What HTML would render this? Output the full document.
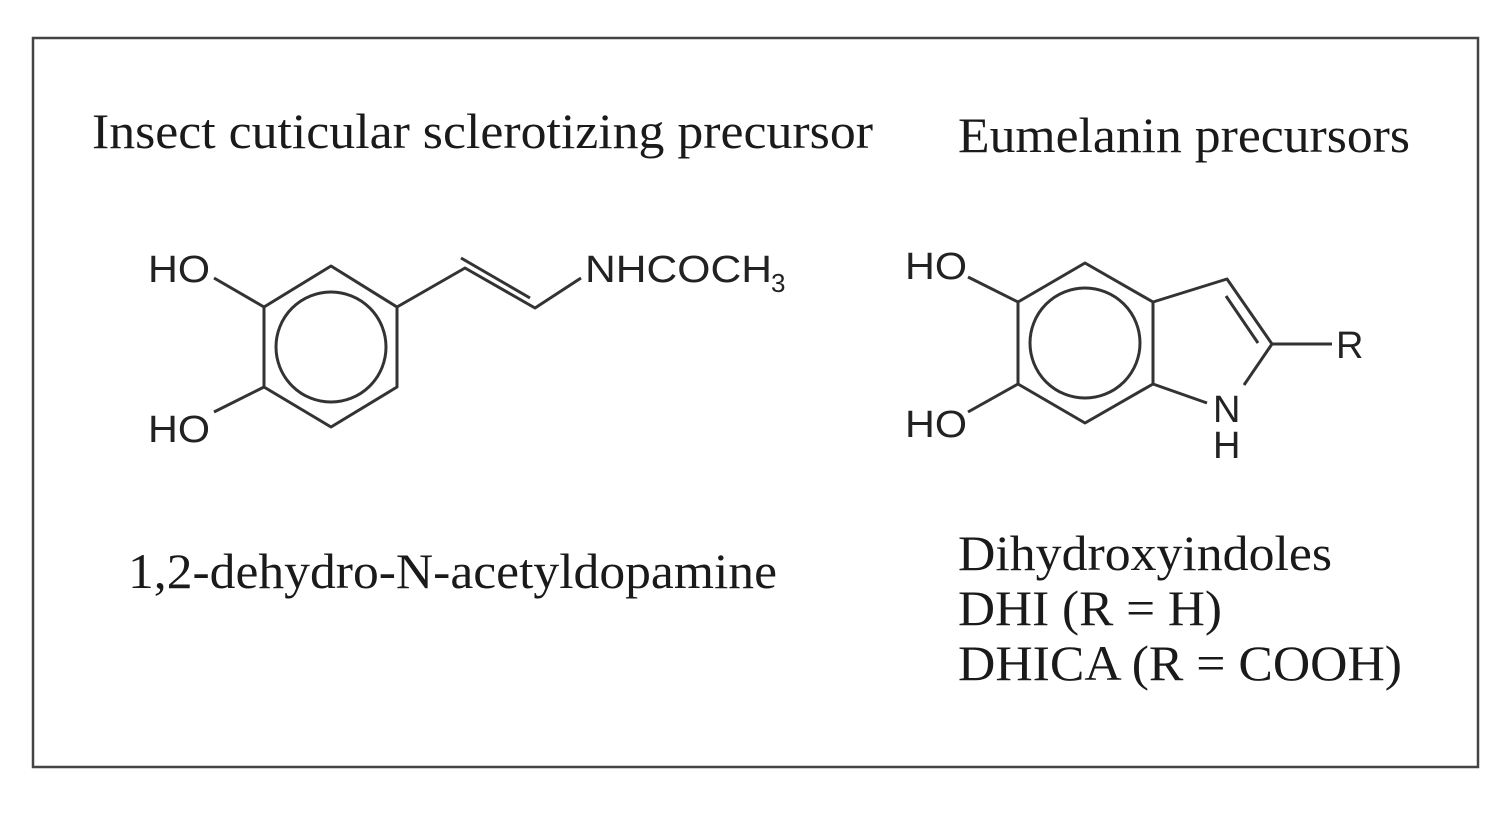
<!DOCTYPE html>
<html><head><meta charset="utf-8"><style>
html,body{margin:0;padding:0;background:#fff}
svg{display:block}
.s{font-family:"Liberation Serif",serif;font-size:50px;fill:#1a1a1a}
.a{font-family:"Liberation Sans",sans-serif;font-size:38px;fill:#222}
</style></head><body>
<svg width="1501" height="814" viewBox="0 0 1501 814" xmlns="http://www.w3.org/2000/svg">
<rect x="33" y="38" width="1445" height="729" fill="none" stroke="#444" stroke-width="2.5"/>
<text class="s" x="92" y="148" textLength="781" lengthAdjust="spacingAndGlyphs">Insect cuticular sclerotizing precursor</text>
<text class="s" x="958" y="152" textLength="452" lengthAdjust="spacingAndGlyphs">Eumelanin precursors</text>
<text class="s" x="128" y="588" textLength="649" lengthAdjust="spacingAndGlyphs">1,2-dehydro-N-acetyldopamine</text>
<text class="s" x="958" y="570" textLength="374" lengthAdjust="spacingAndGlyphs">Dihydroxyindoles</text>
<text class="s" x="958" y="625" textLength="264" lengthAdjust="spacingAndGlyphs">DHI (R = H)</text>
<text class="s" x="958" y="680" textLength="444" lengthAdjust="spacingAndGlyphs">DHICA (R = COOH)</text>
<g stroke="#333" stroke-width="3" fill="none" stroke-linejoin="round">
<polygon points="331,266 397,307 397,387 331,427 264,387 264,307"/>
<circle cx="331" cy="347" r="55"/>
<line x1="264" y1="307" x2="214" y2="278"/>
<line x1="264" y1="387" x2="214" y2="412"/>
<polyline points="397,307 465,268 535,308 581,278"/>
<line x1="461" y1="258" x2="530" y2="298"/>
<polygon points="1085,263 1153,302 1153,384 1085,423 1018,384 1018,302"/>
<circle cx="1085" cy="343" r="55"/>
<line x1="1018" y1="302" x2="968" y2="277"/>
<line x1="1018" y1="384" x2="968" y2="412"/>
<polyline points="1153,302 1227,279 1272,344 1244,385"/>
<line x1="1153" y1="384" x2="1207" y2="403"/>
<line x1="1226" y1="296" x2="1258" y2="343"/>
<line x1="1272" y1="344" x2="1332" y2="344"/>
</g>
<text class="a" x="148" y="282" textLength="62" lengthAdjust="spacingAndGlyphs">HO</text>
<text class="a" x="148" y="442" textLength="62" lengthAdjust="spacingAndGlyphs">HO</text>
<text class="a" x="585" y="282" textLength="187" lengthAdjust="spacingAndGlyphs">NHCOCH</text>
<text class="a" x="771" y="292" style="font-size:26px">3</text>
<text class="a" x="905" y="279" textLength="62" lengthAdjust="spacingAndGlyphs">HO</text>
<text class="a" x="905" y="437" textLength="62" lengthAdjust="spacingAndGlyphs">HO</text>
<text class="a" x="1213" y="422">N</text>
<text class="a" x="1213" y="458">H</text>
<text class="a" x="1336" y="358">R</text>
</svg>
</body></html>
